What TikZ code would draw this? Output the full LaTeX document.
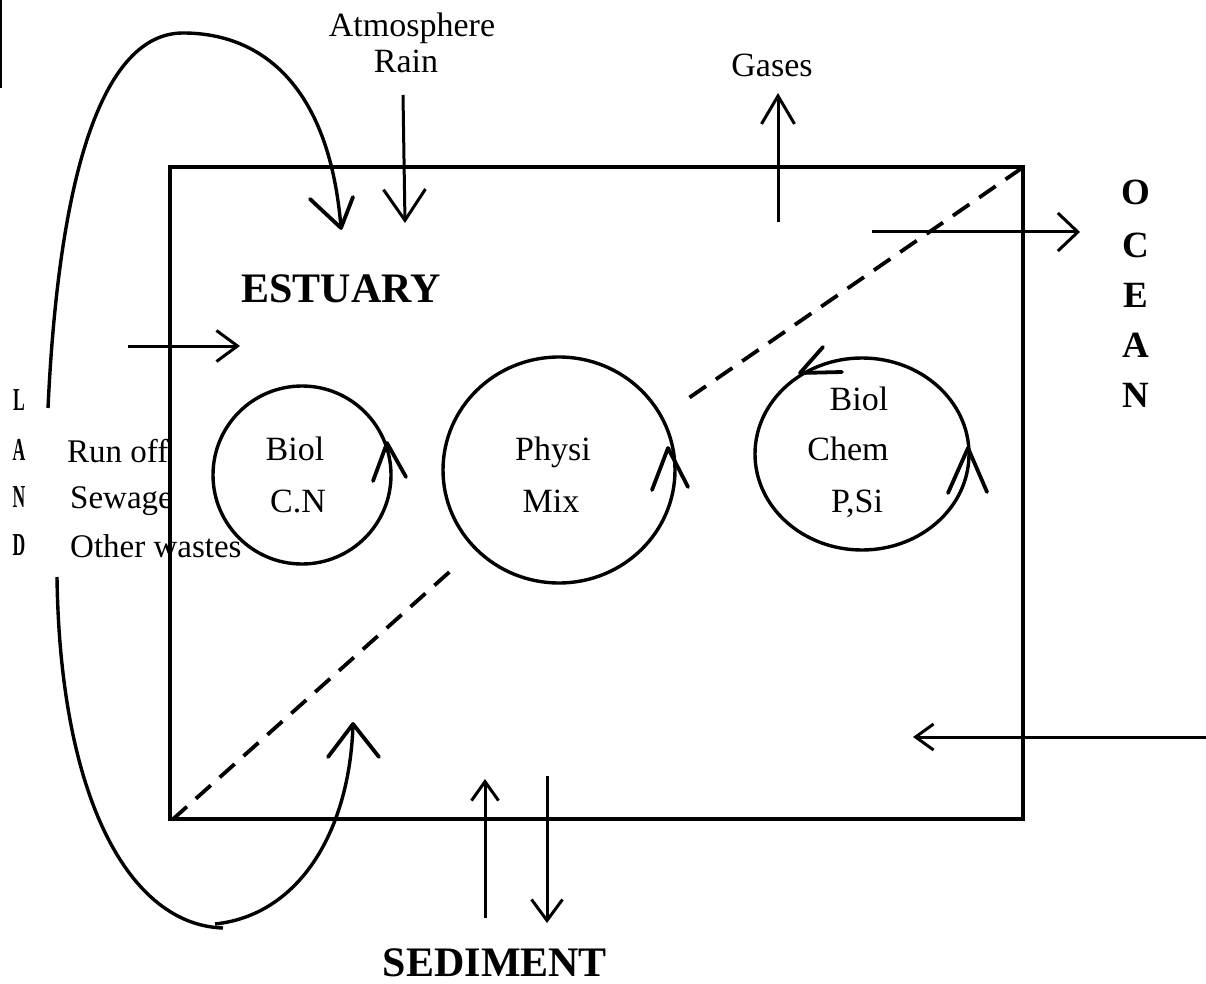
\documentclass[tikz,border=0pt]{standalone}
\usepackage{fontspec}
\setmainfont{Liberation Serif}
\usetikzlibrary{arrows.meta}
\begin{document}
\begin{tikzpicture}[x=1pt,y=-1pt,
  lbl/.style={anchor=base, inner sep=0pt, font=\fontsize{34}{36}\selectfont},
  lbll/.style={anchor=base west, inner sep=0pt, font=\fontsize{33}{36}\selectfont},
  big/.style={anchor=base, inner sep=0pt, font=\fontsize{42}{46}\selectfont\bfseries},
  oceanl/.style={anchor=base, inner sep=0pt, font=\fontsize{37}{40}\selectfont\bfseries},
  landl/.style={anchor=base, inner sep=0pt, font=\fontsize{32}{32}\selectfont\bfseries},
  frame/.style={line width=4pt},
  ring/.style={line width=3.4pt},
  flow/.style={line width=3pt},
  vee/.style={line width=3.8pt, line cap=round, line join=round},
  dashline/.style={line width=3.8pt, dash pattern=on 20pt off 12pt},
  ]
\useasboundingbox (0,0) rectangle (1206,984);
\fill[white] (0,0) rectangle (1206,984);

% scan edge mark
\draw[line width=2pt] (1,0) -- (1,88);

% estuary box
\draw[frame] (170,167) rectangle (1023,819);
\draw[dashline] (1022,168) -- (683,402);
\draw[dashline] (172,820) -- (455,567);

% labels
\node[lbl] (atm) at (412,37) {Atmosphere};
\node[lbl] (rain) at (406,73) {Rain};
\node[lbl] (gases) at (772,77) {Gases};
\node[big] (estuary) at (341,302) {ESTUARY};
\node[big] (sediment) at (495,976) {SEDIMENT};

\node[oceanl] (o1) at (1136,205) {O};
\node[oceanl] (o2) at (1136,257) {C};
\node[oceanl] (o3) at (1136,307) {E};
\node[oceanl] (o4) at (1136,357) {A};
\node[oceanl] (o5) at (1136,407) {N};

\node[landl] (l1) at (19,410) {\scalebox{0.55}[1]{L}};
\node[landl] (l2) at (19,460) {\scalebox{0.55}[1]{A}};
\node[landl] (l3) at (19,507) {\scalebox{0.55}[1]{N}};
\node[landl] (l4) at (19,555) {\scalebox{0.55}[1]{D}};

\node[lbll] (runoff) at (67,462) {Run off};
\node[lbll] (sewage) at (70,508) {Sewage};
\node[lbll] (other) at (70,557) {Other wastes};

% circles
\draw[ring] (302,475) circle[radius=89];
\node[lbl] (b1) at (295,460) {Biol};
\node[lbl] (cn) at (298,512) {C.N};
\draw[vee] (373,481) -- (387,443) -- (406,477);

\draw[ring] (559,470) ellipse[x radius=116, y radius=113];
\node[lbl] (physi) at (553,460) {Physi};
\node[lbl] (mix) at (551,512) {Mix};
\draw[vee] (652,490) -- (668,448) -- (688,487);

\draw[ring] (862,454) ellipse[x radius=107, y radius=96];
\node[lbl] (b2) at (859,410) {Biol};
\node[lbl] (chem) at (848,460) {Chem};
\node[lbl] (psi) at (857,512) {P,Si};
\draw[vee] (948,493) -- (968,448) -- (987,492);
\draw[vee] (823,347) -- (800,373) -- (842,372);

% straight flows
\coordinate (rainS) at (403,95);   \coordinate (rainE) at (405,223);
\coordinate (gasS) at (778,222);   \coordinate (gasE) at (778,93);
\coordinate (ocS) at (872,232);    \coordinate (ocE) at (1080,232);
\coordinate (oiS) at (1206,737);   \coordinate (oiE) at (913,737);
\coordinate (landS) at (128,346);  \coordinate (landE) at (240,346);
\coordinate (sedUpS) at (485,918); \coordinate (sedUpE) at (485,779);
\coordinate (sedDnS) at (547,776); \coordinate (sedDnE) at (547,923);

\draw[flow, -{Straight Barb[length=31pt, width=42pt]}] (rainS) -- (rainE);
\draw[flow, -{Straight Barb[length=28pt, width=33pt]}] (gasS) -- (gasE);
\draw[flow, -{Straight Barb[length=20pt, width=38pt]}] (ocS) -- (ocE);
\draw[flow, -{Straight Barb[length=18pt, width=26pt]}] (oiS) -- (oiE);
\draw[flow, -{Straight Barb[length=21pt, width=31pt]}] (landS) -- (landE);
\draw[flow, -{Straight Barb[length=19pt, width=27pt]}] (sedUpS) -- (sedUpE);
\draw[flow, -{Straight Barb[length=21pt, width=31pt]}] (sedDnS) -- (sedDnE);

% land loops
\coordinate (topS) at (48,408); \coordinate (topP) at (183,33); \coordinate (topE) at (341,228);
\draw[ring] (topS) .. controls (60,150) and (110,33) .. (topP)
  .. controls (265,33) and (330,90) .. (topE);
\draw[vee] (310,199) -- (topE) -- (353,197);

\coordinate (botS) at (57,577); \coordinate (botM) at (223,928);
\coordinate (botM2) at (215,924); \coordinate (botE) at (353,724);
\draw[ring] (botS) .. controls (60,800) and (130,925) .. (botM);
\draw[ring] (botM2) .. controls (300,915) and (350,830) .. (botE);
\draw[vee] (328,757) -- (botE) -- (379,757);
\end{tikzpicture}
\end{document}
